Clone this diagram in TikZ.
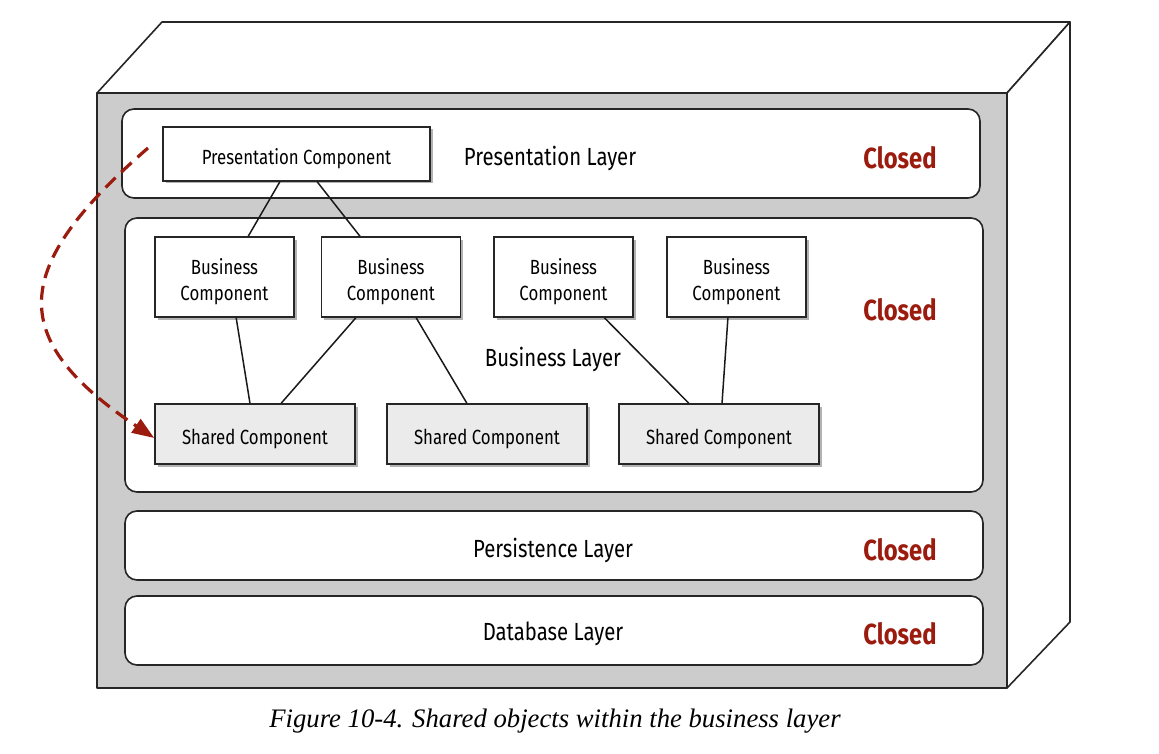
\documentclass[tikz,border=0pt]{standalone}
\usepackage{fontspec}
\usetikzlibrary{shadows,arrows.meta,calc}
\newfontfamily\cfont{Fira Sans}[FakeStretch=0.82]
\newfontfamily\capfont{Liberation Serif}
\definecolor{facegray}{HTML}{CCCCCC}
\definecolor{sharedgray}{HTML}{EBEBEB}
\definecolor{closedred}{HTML}{9B1B0E}
\newcommand\comptext[1]{\raisebox{-5pt}[\height][\depth]{\begin{tabular}{@{}c@{}}#1\end{tabular}}}
\tikzset{
  edgeline/.style={draw=black!85, line width=1.6pt, line join=round},
  layerbox/.style={draw=black!85, line width=1.6pt, fill=white, rounded corners=12pt, inner sep=0pt},
  compbox/.style={draw=black!85, line width=1.6pt, fill=white, inner sep=0pt, align=center,
    font=\cfont\fontsize{20.5}{26}\selectfont,
    drop shadow={shadow xshift=2.5pt, shadow yshift=-2.5pt, fill=black, opacity=0.3}},
  buscomp/.style={compbox, minimum width=139pt, minimum height=80pt},
  sharedcomp/.style={compbox, fill=sharedgray, minimum width=200pt, minimum height=60pt},
  layerlabel/.style={font=\cfont\fontsize{24.8}{28}\selectfont, inner sep=0pt},
  closedlabel/.style={font=\cfont\bfseries\fontsize{29}{31}\selectfont, text=closedred, inner sep=0pt},
  link/.style={draw=black!90, line width=1.5pt},
  sharedarrow/.style={draw=closedred, line width=3.2pt, dash pattern=on 14pt off 8pt,
    -{Triangle[length=22pt,width=16pt]}}
}
\begin{document}
\begin{tikzpicture}[x=1pt,y=-1pt]
\useasboundingbox (0,0) rectangle (1159,754);
% box faces
\draw[edgeline, fill=white] (97,93) -- (162,22) -- (1070,22) -- (1007,93) -- cycle;
\draw[edgeline, fill=white] (1007,93) -- (1070,22) -- (1070,622) -- (1007,688) -- cycle;
\draw[edgeline, fill=facegray] (97,93) rectangle (1007,688);
% layers
\node[layerbox, minimum width=858pt, minimum height=89pt] (play) at (551,153.5) {};
\node[layerbox, minimum width=858pt, minimum height=274pt] (blay) at (554,355) {};
\node[layerbox, minimum width=858pt, minimum height=69pt] (perlay) at (554,545.5) {};
\node[layerbox, minimum width=858pt, minimum height=69pt] (dblay) at (554,630.5) {};
% layer labels
\node[layerlabel] (playtxt) at (550,158) {Presentation Layer};
\node[layerlabel] (blaytxt) at (553,359) {Business Layer};
\node[layerlabel] (perlaytxt) at (553,550) {Persistence Layer};
\node[layerlabel] (dblaytxt) at (553,634) {Database Layer};
\node[closedlabel] (c1) at (900,158) {Closed};
\node[closedlabel] (c2) at (900,310) {Closed};
\node[closedlabel] (c3) at (900,550) {Closed};
\node[closedlabel] (c4) at (900,634) {Closed};
% components
\node[compbox, minimum width=267pt, minimum height=54pt] (pc) at (296.5,154) {\comptext{Presentation Component}};
\node[buscomp] (b1) at (224.5,277) {\comptext{Business\\Component}};
\node[buscomp] (b2) at (391,277) {\comptext{Business\\Component}};
\node[buscomp] (b3) at (563.5,277) {\comptext{Business\\Component}};
\node[buscomp] (b4) at (736.5,277) {\comptext{Business\\Component}};
\node[sharedcomp] (s1) at (255,434) {\comptext{Shared Component}};
\node[sharedcomp] (s2) at (487,434) {\comptext{Shared Component}};
\node[sharedcomp] (s3) at (719,434) {\comptext{Shared Component}};
% links
\draw[link] ($(pc.south west)!0.438!(pc.south east)$) -- ($(b1.north west)!0.669!(b1.north east)$);
\draw[link] ($(pc.south west)!0.577!(pc.south east)$) -- ($(b2.north west)!0.279!(b2.north east)$);
\draw[link] ($(b1.south west)!0.583!(b1.south east)$) -- ($(s1.north west)!0.475!(s1.north east)$);
\draw[link] ($(b2.south west)!0.25!(b2.south east)$) -- ($(s1.north west)!0.63!(s1.north east)$);
\draw[link] ($(b2.south west)!0.679!(b2.south east)$) -- ($(s2.north west)!0.40!(s2.north east)$);
\draw[link] ($(b3.south west)!0.791!(b3.south east)$) -- ($(s3.north west)!0.35!(s3.north east)$);
\draw[link] ($(b4.south west)!0.439!(b4.south east)$) -- ($(s3.north west)!0.515!(s3.north east)$);
% shared access arrow
\coordinate (arrstart) at (148,148);
\draw[sharedarrow] (arrstart) .. controls (11,267) and (5,338) .. ([yshift=-4pt]s1.west);
% caption
\node[font=\capfont\itshape\fontsize{26.7}{30}\selectfont, inner sep=0pt] (caption) at (555,721) {Figure 10-4. Shared objects within the business layer};
\end{tikzpicture}
\end{document}
